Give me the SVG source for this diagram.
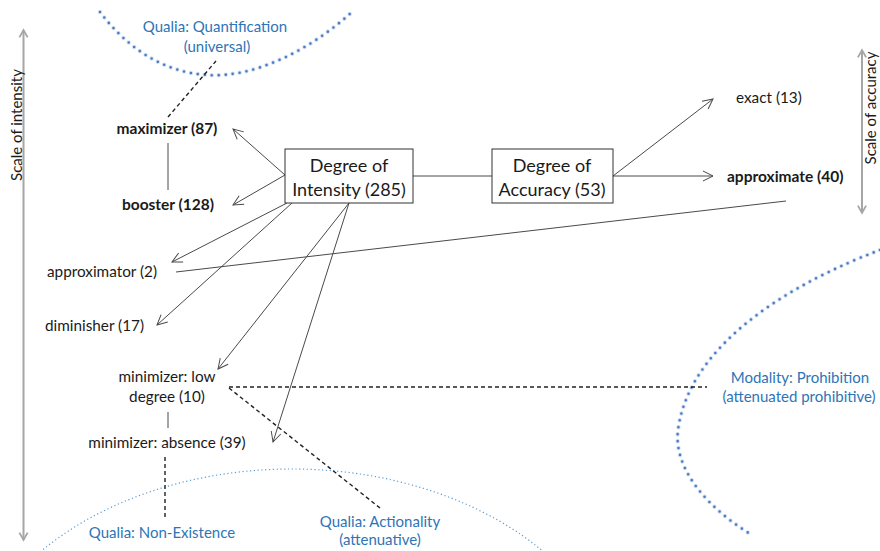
<svg xmlns="http://www.w3.org/2000/svg" width="880" height="551" viewBox="0 0 880 551">
<style>
text{font-family:Lato,"Liberation Sans",sans-serif;fill:#1a1a1a}
.lbl{font-size:15.3px}
.b{font-weight:bold;font-size:15.5px}
.box{font-size:18px;text-anchor:middle}
.blue{fill:#2E75B6;font-size:15px;text-anchor:middle}
.mid{text-anchor:middle}
.scale{font-size:15px;text-anchor:middle}
.ln{stroke:#4a4a4a;stroke-width:1;fill:none}
.dash{stroke:#222;stroke-width:1.4;stroke-dasharray:4 3;fill:none}
.thickdot{stroke:#4A7CC4;stroke-width:2.6;stroke-linecap:round;stroke-dasharray:0 7;fill:none}
.glow{stroke:#B5C9E8;stroke-width:4.5;stroke-linecap:round;stroke-dasharray:0 7;fill:none;opacity:0.55}
.thindot{stroke:#5B9BD5;stroke-width:1.2;stroke-dasharray:1.2 2.6;fill:none}
.sc{stroke:#A6A6A6;stroke-width:2;fill:none}
</style>
<defs>
<marker id="ah" viewBox="0 0 12 12" refX="11" refY="6" markerWidth="12" markerHeight="12" markerUnits="userSpaceOnUse" orient="auto">
<path d="M1,1 L11,6 L1,11" fill="none" stroke="#4a4a4a" stroke-width="1"/>
</marker>
<marker id="sh" viewBox="0 0 12 12" refX="10" refY="6" markerWidth="11" markerHeight="11" markerUnits="userSpaceOnUse" orient="auto-start-reverse">
<path d="M2,1.5 L10,6 L2,10.5" fill="none" stroke="#A6A6A6" stroke-width="2"/>
</marker>
</defs>

<g id="regions">
<path class="glow" d="M100,12 C125,45 160,72 207,75 C255,78 310,50 352,12"/>
<path class="thickdot" d="M100,12 C125,45 160,72 207,75 C255,78 310,50 352,12"/>
<path class="glow" d="M880,250 C800,280 690,340 678,430 C673,470 710,510 752,535"/>
<path class="thickdot" d="M880,250 C800,280 690,340 678,430 C673,470 710,510 752,535"/>
<ellipse class="thindot" cx="292" cy="700" rx="328" ry="231"/>
</g>

<g id="scales">
<line class="sc" x1="23.5" y1="30" x2="23.5" y2="540" marker-start="url(#sh)" marker-end="url(#sh)"/>
<text class="scale" transform="translate(22,125) rotate(-90)">Scale of intensity</text>
<line class="sc" x1="862" y1="50" x2="862" y2="213" marker-start="url(#sh)" marker-end="url(#sh)"/>
<text class="scale" transform="translate(876,108) rotate(-90)">Scale of accuracy</text>
</g>

<g id="connectors">
<line class="ln" x1="413" y1="176" x2="492" y2="176"/>
<line class="ln" x1="285" y1="175" x2="233" y2="129" marker-end="url(#ah)"/>
<line class="ln" x1="285" y1="175" x2="233" y2="205" marker-end="url(#ah)"/>
<line class="ln" x1="287" y1="203" x2="172" y2="262" marker-end="url(#ah)"/>
<line class="ln" x1="292" y1="203" x2="157" y2="325" marker-end="url(#ah)"/>
<line class="ln" x1="349" y1="203" x2="218" y2="369" marker-end="url(#ah)"/>
<line class="ln" x1="349" y1="203" x2="273" y2="442" marker-end="url(#ah)"/>
<line class="ln" x1="613" y1="176" x2="713" y2="99" marker-end="url(#ah)"/>
<line class="ln" x1="613" y1="176" x2="713" y2="176" marker-end="url(#ah)"/>
<line class="ln" x1="176" y1="272" x2="786" y2="201"/>
<line class="ln" x1="168" y1="143" x2="168" y2="190"/>
<line class="ln" x1="168" y1="412" x2="168" y2="428"/>
<line class="dash" x1="168" y1="117" x2="216" y2="61"/>
<line class="dash" x1="229" y1="387" x2="707" y2="387"/>
<line class="dash" x1="229" y1="388" x2="380" y2="508"/>
<line class="dash" x1="165" y1="457" x2="165" y2="517"/>
</g>

<g id="intensity">
<rect x="285" y="149" width="128" height="54" fill="#fff" stroke="#333" stroke-width="1"/>
<text class="box" x="349" y="172">Degree of</text>
<text class="box" x="349" y="196">Intensity (285)</text>
</g>
<g id="accuracy">
<rect x="492" y="149" width="121" height="54" fill="#fff" stroke="#333" stroke-width="1"/>
<text class="box" x="552" y="172">Degree of</text>
<text class="box" x="552" y="196">Accuracy (53)</text>
</g>

<g id="maximizer"><text class="lbl b mid" x="167" y="134">maximizer (87)</text></g>
<g id="booster"><text class="lbl b mid" x="168" y="210">booster (128)</text></g>
<g id="approximator"><text class="lbl" x="47" y="277">approximator (2)</text></g>
<g id="diminisher"><text class="lbl" x="45" y="331">diminisher (17)</text></g>
<g id="minimizer-low"><text class="lbl mid" x="167" y="382">minimizer: low</text><text class="lbl mid" x="167" y="402">degree (10)</text></g>
<g id="minimizer-absence"><text class="lbl mid" x="167" y="448">minimizer: absence (39)</text></g>
<g id="exact"><text class="lbl" x="736" y="103">exact (13)</text></g>
<g id="approximate"><text class="lbl b" x="727" y="182">approximate (40)</text></g>

<g id="qualia-quantification"><text class="blue" x="215" y="32">Qualia: Quantification</text><text class="blue" x="217" y="52">(universal)</text></g>
<g id="qualia-nonexistence"><text class="blue" x="162" y="538">Qualia: Non-Existence</text></g>
<g id="qualia-actionality"><text class="blue" x="380" y="527">Qualia: Actionality</text><text class="blue" x="380" y="545">(attenuative)</text></g>
<g id="modality-prohibition"><text class="blue" x="800" y="383">Modality: Prohibition</text><text class="blue" x="799" y="402">(attenuated prohibitive)</text></g>
</svg>
